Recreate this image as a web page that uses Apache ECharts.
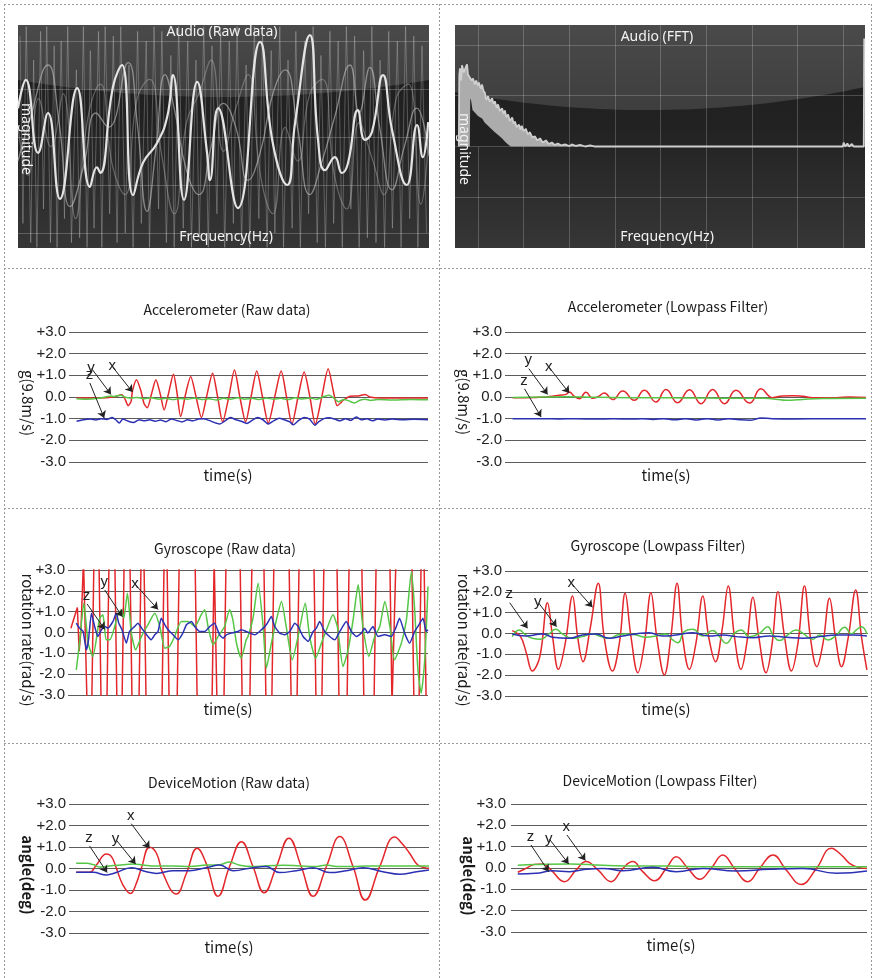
<!DOCTYPE html>
<html>
<head>
<meta charset="utf-8">
<script src="https://cdn.jsdelivr.net/npm/echarts@6/dist/echarts.min.js"></script>
<style>
  html, body { margin: 0; padding: 0; background: #fff; }
  #chart { width: 872px; height: 978px; }
</style>
</head>
<body>
<div id="chart"></div>
<script>
// ---- data: [t, value], t runs 0..100 across each plot ----

// audio raw (magnitude, grid lines at -2..2)
const audioMain = [[0,0.6],[1.9,1.19],[4.9,-0.33],[7.3,0.5],[10.2,-1.29],[14.4,1.02],[17.5,-1.04],[19.2,-0.63],[20,-0.75],[23.1,1.04],[25.3,1.5],[28,-1.21],[30.4,-0.54],[33.8,-0.13],[36.3,0.42],[37.7,1.29],[40.4,-1.31],[43.6,1.15],[46,-0.33],[46.7,-0.9],[48.7,0.6],[53.5,-1.48],[58.9,1.98],[62,-0.13],[65.5,-1.0],[67.4,0.29],[71,2.12],[73,-0.06],[74.7,-0.69],[77.1,-0.42],[78.8,-0.75],[80.3,-0.54],[82.7,0.56],[84.4,-0.06],[86.1,0.1],[88.8,1.29],[91,0.15],[94.6,-1.0],[97.1,0.25],[98.5,-0.42],[99.8,0.31]];
const audioTraceA = [[0,-0.5],[3,0.4],[7.3,1.5],[10,0.3],[12.7,-1.45],[16,-0.6],[19,0.5],[22,0.2],[26.8,1.55],[29,0.3],[31.4,-1.55],[33.5,-0.3],[35.8,1.3],[38,0.6],[41,-0.7],[44,-1.2],[47,-0.2],[50,0.7],[53,0.2],[56,-0.9],[59,-0.3],[62,0.9],[65,1.4],[68,0.2],[71,-1.2],[74,-0.5],[77,0.4],[80.8,1.5],[83,0.5],[85.6,1.45],[88,0.2],[91,-1.1],[94,-0.2],[97,0.6],[100,-0.4]];
const audioTraceB = [[0,0.2],[2.5,-0.8],[5,0.8],[8,-0.2],[11,0.9],[14,-1.7],[17,0.4],[20,1.1],[23,-0.6],[26,-1.2],[29,0.8],[32,1.2],[35,-0.4],[38,-1.6],[41,0.3],[44,0.9],[47,1.6],[50,-0.3],[53,0.6],[56,1.3],[59,-0.8],[62,-1.6],[65,0.2],[68,-0.5],[71,0.9],[74,1.2],[77,-0.8],[80,-1.5],[83,0.3],[86,-0.4],[89,-1.2],[92,0.8],[95,1.1],[98,-1.4],[100,0.1]];
const audioSpikes = [[0.5,2.1],[1.2,-1.8],[2.0,2.3],[3.1,-2.2],[3.8,1.6],[4.6,-2.3],[5.5,2.2],[6.2,-1.5],[7.0,2.3],[7.9,-2.2],[8.8,1.9],[9.5,-2.3],[10.5,2.0],[11.3,-1.7],[12.1,2.3],[13.0,-2.2],[14.2,1.4],[15.0,-2.1],[15.9,2.3],[16.8,-2.3],[17.6,1.8],[18.5,-1.9],[19.6,2.2],[20.4,-2.3],[21.2,2.3],[22.3,-1.6],[23.2,2.1],[24.1,-2.2],[25.0,2.3],[26.1,-2.0],[27.0,1.5],[28.0,-2.3],[29.1,2.2],[30.0,-1.8],[31.2,2.0],[32.0,-2.3],[33.1,2.3],[34.2,-1.5],[35.0,2.2],[36.1,-2.2],[37.2,1.7],[38.0,-2.3],[39.1,2.3],[40.2,-1.9],[41.3,2.0],[42.2,-2.3],[43.3,1.6],[44.1,-2.1],[45.2,2.3],[46.3,-2.3],[47.2,1.9],[48.4,-1.6],[49.3,2.2],[50.3,-2.3],[51.4,2.0],[52.4,-1.8],[53.3,2.3],[54.4,-2.2],[55.5,1.5],[56.4,-2.3],[57.5,2.3],[58.6,-1.7],[59.5,2.1],[60.6,-2.3],[61.6,1.8],[62.5,-2.0],[63.7,2.3],[64.6,-2.3],[65.7,1.6],[66.7,-1.9],[67.6,2.2],[68.7,-2.3],[69.8,2.0],[70.7,-1.6],[71.8,2.3],[72.8,-2.2],[73.7,1.7],[74.8,-2.3],[75.9,2.2],[76.8,-1.8],[77.9,2.0],[78.9,-2.3],[79.9,2.3],[81.0,-1.5],[81.9,2.1],[83.0,-2.3],[84.1,1.8],[85.0,-2.1],[86.1,2.3],[87.1,-2.2],[88.1,1.6],[89.2,-2.3],[90.2,2.2],[91.1,-1.9],[92.3,2.0],[93.2,-2.3],[94.3,2.3],[95.3,-1.7],[96.3,2.1],[97.3,-2.3],[98.3,1.9],[99.4,-2.0]];

// audio FFT (t in grid-column units, 0..8 between first and last vertical line)
const fftUpper = [[-0.42,0],[-0.41,1.4],[-0.395,1.54],[-0.37,1.3],[-0.35,1.6],[-0.31,1.46],[-0.26,1.58],[-0.24,1.62],[-0.22,1.42],[-0.18,1.44],[-0.14,1.3],[-0.11,1.34],[-0.07,1.22],[-0.04,1.3],[0.0,1.2],[0.02,1.26],[0.06,1.14],[0.09,1.22],[0.12,1.1],[0.15,1.06],[0.18,0.92],[0.22,0.99],[0.26,0.88],[0.31,0.95],[0.34,0.84],[0.37,0.89],[0.41,0.76],[0.44,0.83],[0.48,0.7],[0.53,0.75],[0.56,0.64],[0.59,0.71],[0.62,0.58],[0.66,0.63],[0.7,0.5],[0.75,0.57],[0.78,0.45],[0.81,0.49],[0.85,0.38],[0.9,0.43],[0.93,0.33],[0.96,0.41],[1.0,0.3],[1.05,0.35],[1.09,0.24],[1.14,0.28],[1.19,0.18],[1.25,0.2],[1.3,0.12],[1.36,0.16],[1.42,0.08],[1.49,0.12],[1.55,0.05],[1.62,0.08],[1.68,0.03],[1.75,0.06],[1.83,0.02],[1.91,0.04],[2.0,0.01],[2.06,0.04],[2.15,0.01],[2.24,0.03],[2.35,0.0],[2.46,0.02],[2.55,0],[4.88,0],[4.9,0.03],[4.92,0],[8.0,0],[8.02,0.08],[8.05,0],[8.1,0.06],[8.14,0],[8.2,0.05],[8.24,0],[8.46,0],[8.47,2.13]];
const fftGap = [[-0.18,0],[-0.17,0.95],[-0.15,0.9],[-0.12,0.72],[-0.07,0.67],[0.0,0.6],[0.09,0.55],[0.15,0.47],[0.22,0.41],[0.3,0.34],[0.37,0.28],[0.45,0.22],[0.53,0.16],[0.6,0.09],[0.66,0.04],[0.72,0]];

// accelerometer raw
const accRawX = [[2.1,-0.05],[8.6,-0.05],[12.3,0.0],[14.7,0.1],[15.6,-0.1],[16.5,-0.4],[17.3,-0.2],[17.7,0.3],[18.8,0.8],[20.0,0.3],[20.9,-0.3],[21.8,-0.5],[23.0,0.15],[24.2,0.8],[25.4,0.15],[26.5,-0.6],[27.7,0.15],[29.1,1.05],[30.0,0.3],[31.1,-0.9],[32.5,0.15],[33.9,0.95],[35.4,0.0],[36.9,-0.95],[38.3,0],[40.0,1.1],[41.4,0],[42.8,-1.15],[44.5,0],[46.1,1.25],[47.6,0],[49.2,-1.15],[50.7,0],[52.3,1.2],[53.9,0],[55.5,-1.2],[57.3,0],[59.1,1.2],[60.6,0],[62.1,-1.25],[63.8,0],[65.5,1.15],[67.1,0],[68.6,-1.25],[70.4,0],[72.2,1.3],[73.6,0.3],[74.7,-0.4],[75.5,-0.3],[76.4,-0.15],[78.3,0.03],[80.6,0.05],[82.5,0.12],[83.8,0],[86.6,-0.05],[100,-0.05]];
const accRawY = [[2.1,-0.08],[5,-0.1],[8,-0.06],[10,0.0],[11.5,0.05],[12.5,0.02],[13.5,0.06],[14.5,0.08],[15.5,0.0],[17,-0.05],[19,-0.02],[21,-0.08],[23,-0.04],[25,-0.1],[27,-0.06],[29,-0.12],[31,-0.07],[33,-0.1],[35,-0.05],[37,-0.12],[39,-0.08],[41,-0.14],[43,-0.06],[45,-0.1],[47,-0.04],[49,-0.1],[51,-0.06],[53,-0.12],[55,-0.05],[57,-0.1],[59,-0.06],[61,-0.12],[63,-0.04],[65,-0.09],[67,-0.05],[69,-0.1],[71,0.02],[72.5,0.08],[74,-0.08],[75,-0.22],[76.5,-0.12],[78,-0.18],[79.5,-0.28],[81,-0.15],[82.5,-0.1],[84,-0.16],[86,-0.12],[90,-0.14],[95,-0.11],[100,-0.13]];
const accRawZ = [[2.1,-1.12],[4,-1.05],[6,-1.02],[7.5,-1.06],[9,-1.0],[10.5,-1.04],[12,-0.95],[13,-1.05],[14,-1.2],[15,-1.02],[16.5,-1.12],[18,-1.18],[19.5,-1.05],[21,-1.1],[22.5,-1.05],[24,-1.12],[25.5,-1.06],[27,-1.14],[28.5,-1.02],[30,-1.08],[31.5,-1.15],[33,-1.05],[34.5,-1.1],[36,-1.02],[37.5,-1.0],[39,-1.08],[40.5,-1.18],[42,-1.25],[43.5,-1.1],[45,-0.95],[46.5,-1.05],[48,-1.12],[49.5,-1.22],[51,-1.08],[52.5,-0.95],[54,-1.05],[55.5,-1.25],[57,-1.1],[58.5,-0.98],[60,-1.05],[61.5,-1.15],[62.5,-1.28],[64,-1.08],[65.5,-0.95],[67,-1.02],[68.5,-1.3],[69.5,-1.15],[71,-1.0],[72.5,-0.96],[74,-1.02],[75.5,-1.1],[77,-1.0],[78.5,-1.08],[80,-0.92],[81.5,-1.05],[83,-1.0],[84.5,-1.1],[86,-1.02],[88,-1.06],[90,-1.02],[93,-1.05],[96,-1.03],[100,-1.05]];

// accelerometer lowpass
const accLpX = [[2.1,-0.03],[8.6,-0.02],[12.3,0.02],[15.1,0.08],[16.9,0.12],[17.8,0.23],[19.2,0.03],[20.6,-0.08],[22.4,0.22],[24.3,-0.06],[25.9,0.03],[27.5,0.18],[29.8,-0.12],[32.6,0.28],[35.8,-0.15],[38.6,0.31],[41.8,-0.23],[44.6,0.35],[47.8,-0.26],[51.1,0.34],[54.3,-0.31],[57.5,0.35],[60.8,-0.31],[64.0,0.31],[67.7,-0.28],[70.9,0.38],[73.2,0.03],[74.1,-0.03],[76.9,0.05],[79.7,0.06],[82.5,0.03],[85.2,-0.03],[91.7,-0.03],[95.4,0.0],[100,-0.02]];
const accLpY = [[2.1,-0.02],[10,0.0],[17,0.01],[25,-0.01],[35,-0.03],[45,-0.04],[55,-0.05],[65,-0.06],[72,-0.06],[75,-0.1],[78,-0.15],[81,-0.13],[84,-0.09],[90,-0.07],[100,-0.06]];
const accLpZ = [[2.1,-1.0],[10,-1.0],[15,-1.01],[20,-1.0],[25,-1.02],[30,-1.0],[35,-1.02],[38,-1.0],[41,-1.04],[44,-1.0],[47,-1.05],[50,-1.0],[53,-1.06],[56,-1.0],[59,-1.06],[62,-1.0],[65,-1.05],[68,-1.07],[71,-0.97],[74,-1.0],[80,-1.01],[90,-1.0],[100,-1.0]];

// gyroscope raw (x runs far beyond +-3 and is clipped)
const gyroRawX = [[0.8,0.2],[2.6,1.2],[3.1,-0.9],[3.6,0.1],[4.3,3.5],[4.7,3.5],[5.3,-3.5],[6.6,-3.5],[7.2,3.5],[8.6,3.5],[9.2,-3.5],[10.8,-3.5],[11.4,3.5],[13.0,3.5],[13.6,-3.5],[15.0,-3.5],[15.6,3.5],[17.2,3.5],[17.8,-3.5],[19.7,-3.5],[20.3,3.5],[21.1,3.5],[21.7,-3.5],[26.1,-3.5],[26.7,3.5],[27.5,3.5],[28.1,-3.5],[30.3,-3.5],[30.9,3.5],[35.3,3.5],[35.9,-3.5],[40.0,-3.5],[40.6,3.5],[40.8,3.5],[41.4,-3.5],[43.3,-3.5],[43.9,3.5],[47.8,3.5],[48.4,-3.5],[50.5,-3.5],[51.1,3.5],[54.4,3.5],[55.0,-3.5],[56.6,-3.5],[57.2,3.5],[61.4,3.5],[62.0,-3.5],[63.6,-3.5],[64.2,3.5],[68.3,3.5],[68.9,-3.5],[70.5,-3.5],[71.1,3.5],[74.7,3.5],[75.3,-3.5],[77.5,-3.5],[78.1,3.5],[81.6,3.5],[82.2,-3.5],[85.0,-3.5],[85.6,3.5],[89.4,3.5],[90.0,-3.5],[90.5,-3.5],[91.1,3.5],[95.5,3.5],[96.1,-3.5],[97.5,-3.5],[98.1,3.5],[98.9,3.5],[99.5,-3.5]];
const gyroRawY = [[2.3,-1.79],[3.2,-0.51],[4.4,1.41],[5.6,-0.51],[6.9,-1.15],[8.8,0.69],[9.7,0.85],[10.6,-0.35],[11.6,-0.35],[13.9,0.85],[14.8,1.09],[15.5,0.69],[16.5,1.89],[17.6,-0.03],[18.8,-0.83],[20.4,-0.19],[22.2,0.37],[24.1,0.93],[25.5,0.29],[26.9,-0.75],[28.2,-0.67],[29.6,-0.19],[31.5,0.53],[33.3,0.53],[35.2,0.29],[37.0,0.85],[38.0,1.09],[38.9,0.29],[40.3,-0.59],[41.7,-0.19],[43.5,0.29],[44.9,1.09],[45.8,0.61],[46.8,-0.51],[48.1,-1.23],[49.5,-0.35],[50.0,-0.19],[51.4,0.69],[52.8,2.37],[54.2,0.29],[55.1,-1.71],[56.5,-0.51],[57.9,0.61],[59.3,1.49],[60.6,0.29],[62.3,-1.31],[63.9,-0.19],[65.9,1.41],[67.1,-0.19],[68.8,-1.23],[70.4,-0.51],[71.8,0.13],[73.6,0.85],[74.8,0.29],[76.4,-1.63],[77.8,-0.83],[79.2,0.61],[80.6,2.29],[81.9,0.29],[83.6,-1.15],[85.2,-0.19],[86.6,0.29],[88.0,1.49],[89.4,0.29],[90.7,-1.31],[92.6,-0.51],[94.0,0.61],[95.4,2.93],[96.3,1.09],[97.2,-1.79],[98.1,-2.91],[99.1,-1.31],[100,2.21]];
const gyroRawZ = [[2.3,0.45],[3.2,0.21],[4.2,0.05],[5.1,-0.83],[5.7,-0.35],[6.5,0.93],[7.4,0.29],[8.3,-0.19],[9.3,0.13],[10.2,0.29],[11.1,0.21],[12.5,0.53],[13.4,0.93],[14.1,0.45],[15.0,0.13],[16.2,-0.51],[17.1,0.05],[18.5,0.29],[19.4,0.45],[20.8,0.13],[22.2,-0.19],[23.1,-0.35],[24.1,-0.11],[25.0,0.05],[25.9,0.69],[26.9,0.37],[27.8,0.13],[29.2,-0.11],[30.6,-0.35],[31.9,-0.03],[32.9,0.37],[34.3,0.53],[35.2,0.29],[36.6,0.05],[38.0,0.05],[39.4,0.29],[40.7,0.45],[42.1,-0.11],[43.1,-0.27],[44.0,-0.11],[45.4,-0.03],[47.2,0.05],[48.1,0.13],[49.5,0.05],[51.9,-0.11],[53.2,0.05],[55.1,0.37],[56.5,0.77],[57.4,0.29],[58.8,-0.03],[60.2,-0.11],[61.6,0.05],[63.0,0.45],[63.9,0.29],[65.3,-0.19],[66.7,-0.43],[68.1,0.05],[69.0,0.21],[69.9,0.53],[71.3,0.05],[72.7,-0.19],[74.1,-0.35],[75.5,0.05],[77.3,0.53],[78.7,0.05],[80.1,-0.19],[81.5,-0.03],[82.4,0.21],[83.3,-0.03],[84.7,0.29],[86.1,-0.19],[88.0,-0.11],[89.8,-0.19],[91.2,0.29],[92.1,0.69],[93.5,-0.03],[94.9,-0.51],[96.3,0.05],[97.2,0.29],[98.6,0.69],[99.5,0.05],[100,0.13]];

// gyroscope lowpass
const gyroLpX = [[2.0,0.14],[4.3,-0.15],[5.9,-0.95],[7.5,-1.8],[9.6,-1.11],[11.7,1.48],[13.1,-0.15],[14.7,-1.72],[16.6,-0.47],[18.6,1.8],[20.0,-0.15],[21.5,-1.35],[23.4,0.17],[25.7,2.41],[27.3,-0.15],[29.6,-1.8],[31.5,-0.47],[33.1,1.93],[34.7,-0.15],[36.6,-1.88],[38.4,-0.47],[40.2,1.96],[41.8,-0.15],[43.9,-1.99],[45.7,-0.15],[47.4,2.41],[48.9,-0.15],[50.8,-1.72],[52.6,-0.47],[54.5,1.8],[56.1,-0.15],[58.0,-1.35],[59.8,0.17],[61.5,2.28],[63.2,-0.15],[65.0,-1.72],[66.6,-0.47],[68.3,1.74],[69.9,-0.15],[71.9,-1.88],[73.6,-0.47],[75.2,2.01],[77.0,-0.15],[78.9,-1.8],[80.7,-0.47],[82.5,2.28],[84.1,-0.15],[85.9,-1.59],[87.6,-0.47],[89.4,1.69],[91.0,-0.15],[92.7,-1.59],[94.6,-0.15],[96.6,2.09],[98.2,-0.15],[99.7,-1.75]];
const gyroLpY = [[2.0,-0.15],[3.9,0.17],[5.7,-0.07],[7.5,-0.23],[9.8,-0.28],[12.1,-0.02],[14.0,0.2],[15.8,-0.02],[18.6,-0.23],[21.3,-0.15],[24.1,-0.02],[26.4,-0.15],[28.7,-0.23],[31.0,-0.07],[33.3,-0.02],[36.1,-0.07],[38.8,-0.18],[41.6,-0.12],[44.3,-0.02],[46.2,-0.31],[47.6,-0.44],[49.4,0.09],[51.7,0.2],[54.5,-0.12],[57.2,0.14],[59.1,-0.15],[60.9,-0.47],[63.2,0.01],[65.0,0.17],[67.3,-0.15],[70.1,0.01],[72.4,0.33],[73.8,-0.07],[75.6,-0.34],[77.9,-0.07],[80.2,0.17],[82.1,0.01],[84.8,-0.28],[86.7,-0.07],[89.0,-0.31],[91.3,-0.07],[93.6,0.3],[95.4,-0.02],[96.8,0.17],[98.2,0.33],[99.7,-0.02]];
const gyroLpZ = [[2.0,-0.02],[5.7,-0.12],[10.3,-0.02],[13.1,-0.18],[17.7,-0.23],[21.3,-0.07],[25.0,-0.02],[28.7,-0.23],[32.4,-0.12],[36.1,-0.02],[39.7,0.04],[43.4,-0.12],[47.1,-0.07],[51.7,0.04],[56.3,-0.12],[60.0,-0.07],[63.7,-0.15],[68.3,-0.2],[72.9,-0.12],[77.5,-0.18],[82.1,-0.23],[86.7,-0.15],[91.3,-0.07],[95.9,-0.07],[99.7,-0.12]];

// device motion raw
const dmRawX = [[2.0,-0.18],[5.7,-0.18],[7.6,0.16],[10.4,0.68],[11.8,0.55],[13.1,0.04],[15.0,-0.77],[17.1,-1.16],[18.7,-0.69],[20.1,0.01],[22.4,0.99],[24.3,0.71],[26.1,-0.23],[29.8,-1.19],[32.6,-0.23],[35.6,0.94],[38.1,0.24],[41.4,-1.29],[44.6,0.09],[47.9,1.25],[51.1,0.09],[54.2,-1.13],[57.6,0.09],[61.1,1.41],[64.5,0.09],[67.8,-1.29],[71.5,0.09],[75.2,1.49],[78.9,0.09],[82.3,-1.47],[86.3,0.09],[90.5,1.46],[92.8,1.1],[94.6,0.71],[96.9,0.16],[98.8,0.04],[100,0.01]];
const dmRawY = [[2.0,0.24],[4.8,0.24],[7.1,0.16],[8.5,0.07],[11.3,0.12],[15.0,0.18],[17.8,0.21],[20.6,0.16],[24.3,0.12],[28.9,0.12],[33.5,0.09],[38.1,0.16],[41.9,0.18],[44.6,0.3],[47.4,0.15],[51.1,0.09],[54.8,0.13],[59.4,0.15],[64.1,0.12],[68.7,0.09],[71.5,0.16],[74.3,0.09],[78.9,0.09],[82.6,0.12],[87.2,0.12],[91.9,0.12],[96.5,0.12],[100,0.12]];
const dmRawZ = [[2.0,-0.18],[6.7,-0.18],[10.4,-0.3],[13.1,-0.19],[17.3,0.04],[21.5,-0.15],[24.3,-0.23],[28.9,-0.1],[33.5,-0.1],[38.1,0.04],[41.9,0.16],[45.6,-0.1],[51.1,0.04],[54.8,0.09],[58.5,-0.19],[63.1,-0.1],[67.8,0.04],[72.4,-0.19],[77.0,-0.1],[81.7,0.04],[87.2,-0.15],[91.9,-0.27],[96.5,-0.15],[100,-0.07]];

// device motion lowpass
const dmLpX = [[1.9,-0.2],[4.2,-0.02],[6.6,0.17],[8.9,0.19],[11.2,-0.09],[15.0,-0.64],[18.3,-0.09],[21.1,0.3],[24.4,-0.09],[28.1,-0.64],[31.4,-0.02],[34.2,0.3],[37.0,-0.17],[40.3,-0.6],[43.6,-0.02],[46.4,0.53],[49.7,-0.02],[53.0,-0.53],[56.2,-0.02],[59.5,0.61],[62.8,-0.02],[66.5,-0.64],[69.8,-0.02],[73.6,0.61],[77.3,-0.09],[81.5,-0.77],[85.8,-0.02],[90.0,0.93],[92.8,0.61],[95.1,0.22],[97.5,0.03],[100,-0.02]];
const dmLpY = [[1.9,0.13],[7.0,0.16],[16.4,0.19],[25.8,0.13],[35.1,0.09],[44.5,0.09],[53.9,0.06],[63.3,0.06],[72.6,0.06],[82.0,0.05],[91.4,0.06],[100,0.06]];
const dmLpZ = [[1.9,-0.28],[7.0,-0.25],[11.7,-0.13],[16.4,-0.17],[21.1,-0.06],[25.8,-0.02],[31.4,-0.13],[39.8,0.03],[46.4,-0.17],[53.9,-0.02],[63.3,-0.14],[72.6,-0.06],[82.0,-0.02],[91.4,-0.25],[100,-0.14]];

// arrow annotations: [label, from, to]
const accRawArrows = [['y',[6.3,1.31],[11.7,0.12]],['x',[12.2,1.38],[17.7,0.23]],['z',[5.8,0.65],[9.8,-0.97]]];
const accLpArrows = [['y',[6.6,1.31],[11.8,0.12]],['x',[12.3,1.35],[17.8,0.18]],['z',[5.4,0.38],[10.0,-0.92]]];
const gyroRawArrows = [['z',[5.3,1.37],[10.2,0.15]],['y',[10.2,2.04],[15.1,0.76]],['x',[18.8,2.28],[25.0,1.11]]];
const gyroLpArrows = [['z',[1.3,1.48],[6.2,0.25]],['y',[9.2,1.48],[14.2,0.33]],['x',[18.4,2.38],[24.1,1.26]]];
const dmRawArrows = [['z',[5.7,1.05],[10.6,-0.19]],['y',[13.1,1.33],[18.5,0.21]],['x',[17.3,2.08],[22.4,0.94]]];
const dmLpArrows = [['z',[5.6,1.08],[10.6,-0.17]],['y',[10.8,1.35],[16.2,0.19]],['x',[15.7,1.55],[20.9,0.35]]];

const yTickLabels = ['-3.0', '-2.0', '-1.0', '0.0', '+1.0', '+2.0', '+3.0'];
const panelTitles = ['Accelerometer (Raw data)', 'Accelerometer (Lowpass Filter)', 'Gyroscope (Raw data)',
  'Gyroscope (Lowpass Filter)', 'DeviceMotion (Raw data)', 'DeviceMotion (Lowpass Filter)'];
const yNames = ['g(9.8m/s)', 'g(9.8m/s)', 'rotation rate(rad/s)', 'rotation rate(rad/s)', 'angle(deg)', 'angle(deg)'];

// ---- layout ----
const RED = '#e3272b', GREEN = '#55c646', BLUE = '#2b30b4';
const TXT = '"Noto Sans CJK KR", "Noto Sans", sans-serif';

const panels = [
  { data: [accRawX, accRawY, accRawZ], arrows: accRawArrows, smooth: [0.25, 0.2, 0.2],
    grid: { left: 69, top: 332, width: 359, height: 130 }, margin: 3,
    title: [227, 310], time: [228, 475], yname: [28, 403], bold: false },
  { data: [accLpX, accLpY, accLpZ], arrows: accLpArrows, smooth: [0.5, 0.5, 0.5],
    grid: { left: 505, top: 332, width: 361, height: 130 }, margin: 3,
    title: [668, 307], time: [666, 475], yname: [464, 402], bold: false },
  { data: [gyroRawX, gyroRawY, gyroRawZ], arrows: gyroRawArrows, smooth: [0, 0.2, 0.15],
    grid: { left: 68, top: 570, width: 360, height: 125 }, margin: 3,
    title: [225, 549], time: [228, 709], yname: [28, 640], bold: false },
  { data: [gyroLpX, gyroLpY, gyroLpZ], arrows: gyroLpArrows, smooth: [0.4, 0.5, 0.5],
    grid: { left: 505, top: 571, width: 363, height: 125 }, margin: 3,
    title: [658, 546], time: [666, 709], yname: [464, 640], bold: false },
  { data: [dmRawX, dmRawY, dmRawZ], arrows: dmRawArrows, smooth: [0.45, 0.4, 0.4],
    grid: { left: 69, top: 804, width: 360, height: 129 }, margin: 3,
    title: [229, 783], time: [229, 947], yname: [28, 875], bold: true },
  { data: [dmLpX, dmLpY, dmLpZ], arrows: dmLpArrows, smooth: [0.45, 0.5, 0.5],
    grid: { left: 511, top: 804, width: 356, height: 128 }, margin: 5,
    title: [660, 781], time: [671, 945], yname: [469, 876], bold: true }
];

const grids = [], xAxes = [], yAxes = [], series = [], graphics = [];

function line(idx, data, color, width, smooth, clip, extra) {
  return Object.assign({
    type: 'line', xAxisIndex: idx, yAxisIndex: idx, data: data,
    showSymbol: false, symbol: 'none', smooth: smooth, clip: clip, silent: true,
    lineStyle: { color: color, width: width }
  }, extra || {});
}

function text(str, x, y, font, fill, rotation, glow) {
  const style = { text: str, x: 0, y: 0, font: font, fill: fill,
    textAlign: 'center', textVerticalAlign: 'middle', align: 'center', verticalAlign: 'middle' };
  if (glow) { style.shadowBlur = 4; style.shadowColor = 'rgba(0,0,0,0.9)'; }
  return { type: 'text', x: x, y: y, rotation: rotation || 0, z: 100, silent: true, style: style };
}

function capPoints(x0, y0, w, dl, dm, dr) {
  const pts = [[x0, y0]];
  for (let i = 0; i <= 40; i++) {
    const u = i / 40;
    const d = dl * (1 - u) * (1 - 2 * u) + dm * 4 * u * (1 - u) + dr * u * (2 * u - 1);
    pts.push([x0 + u * w, y0 + d]);
  }
  pts.push([x0 + w, y0]);
  return pts;
}

// dark audio panels
const darkPanels = [
  { x: 18, y: 25, w: 411, h: 223, cap: [55, 72, 55] },
  { x: 455, y: 25, w: 410, h: 223, cap: [67, 85, 62] }
];
darkPanels.forEach(function (p) {
  graphics.push({ type: 'rect', z: -10, silent: true, shape: { x: p.x, y: p.y, width: p.w, height: p.h },
    style: { fill: new echarts.graphic.LinearGradient(0, 0, 0, 1, [
      { offset: 0, color: '#1d1d1d' }, { offset: 0.45, color: '#222222' }, { offset: 1, color: '#363636' }]) } });
  graphics.push({ type: 'polygon', z: -9, silent: true,
    shape: { points: capPoints(p.x, p.y, p.w, p.cap[0], p.cap[1], p.cap[2]) },
    style: { fill: new echarts.graphic.LinearGradient(0, 0, 0, 1, [
      { offset: 0, color: '#4a4a4a' }, { offset: 1, color: '#3e3e3e' }]) } });
});

// grid 0: audio raw
grids.push({ left: 18, top: 25, width: 411, height: 208 });
xAxes.push({ gridIndex: 0, type: 'value', min: 0, max: 100, show: false });
yAxes.push({ gridIndex: 0, type: 'value', min: -2, max: 2.333, interval: 1,
  axisLine: { show: false }, axisTick: { show: false }, axisLabel: { show: false },
  splitLine: { show: true, showMaxLine: false, lineStyle: { color: 'rgba(255,255,255,0.22)', width: 1 } } });
series.push(line(0, audioSpikes, 'rgba(200,200,200,0.33)', 1, false, false));
series.push(line(0, audioTraceB, 'rgba(175,175,175,0.45)', 1.2, 0.5, false));
series.push(line(0, audioTraceA, 'rgba(195,195,195,0.6)', 1.3, 0.5, false));
series.push(line(0, audioMain, '#e4e4e4', 2.2, 0.5, false));

// grid 1: audio fft data + horizontal lines
grids.push({ left: 455, top: 25, width: 410, height: 223 });
xAxes.push({ gridIndex: 1, type: 'value', min: -0.504, max: 8.487, show: false });
yAxes.push({ gridIndex: 1, type: 'value', min: -2, max: 2.394, interval: 1,
  axisLine: { show: false }, axisTick: { show: false }, axisLabel: { show: false },
  splitLine: { show: true, showMaxLine: false, showMinLine: false, lineStyle: { color: 'rgba(255,255,255,0.2)', width: 1 } } });
series.push(line(1, fftUpper, '#cfcfcf', 1.8, false, true, { areaStyle: { color: '#acacac', opacity: 1 }, z: 3 }));
series.push(line(1, fftGap, '#212121', 0, false, true, { areaStyle: { color: '#212121', opacity: 1 }, z: 4 }));

// grid 2: audio fft vertical lines
grids.push({ left: 478, top: 25, width: 365, height: 223 });
xAxes.push({ gridIndex: 2, type: 'value', min: 0, max: 8, interval: 1,
  axisLine: { show: false }, axisTick: { show: false }, axisLabel: { show: false },
  splitLine: { show: true, lineStyle: { color: 'rgba(255,255,255,0.2)', width: 1 } } });
yAxes.push({ gridIndex: 2, type: 'value', min: 0, max: 1, show: false });

// audio labels
const AUDIO_FONT = '14px "Noto Sans"';
graphics.push(text('Audio (Raw data)', 222, 32, AUDIO_FONT, '#f2f2f2', 0, true));
graphics.push(text('Frequency(Hz)', 226, 237, AUDIO_FONT, '#f2f2f2', 0, true));
graphics.push(text('magnitude', 26, 139, AUDIO_FONT, '#f2f2f2', -Math.PI / 2, true));
graphics.push(text('Audio (FFT)', 657, 37, AUDIO_FONT, '#f2f2f2', 0, true));
graphics.push(text('Frequency(Hz)', 667, 237, AUDIO_FONT, '#f2f2f2', 0, true));
graphics.push(text('magnitude', 464, 149, AUDIO_FONT, '#f2f2f2', -Math.PI / 2, true));

// sensor panels
panels.forEach(function (p, k) {
  const idx = 3 + k;
  grids.push(p.grid);
  xAxes.push({ gridIndex: idx, type: 'value', min: 0, max: 100, show: false });
  yAxes.push({ gridIndex: idx, type: 'value', min: -3, max: 3, interval: 1,
    axisLine: { show: false }, axisTick: { show: false },
    axisLabel: { margin: p.margin, color: '#222', fontSize: 15, fontFamily: '"Liberation Sans", Arial, sans-serif',
      formatter: function (v) { return yTickLabels[Math.round(v) + 3]; } },
    splitLine: { show: true, lineStyle: { color: '#5c5c5c', width: 1 } } });
  const colors = [RED, GREEN, BLUE];
  p.data.forEach(function (d, j) {
    const extra = {};
    if (j === 0) {
      extra.markLine = {
        silent: true, animation: false, symbol: ['none', 'arrow'], symbolSize: 7,
        lineStyle: { color: '#222', width: 1, type: 'solid' },
        label: { show: true, position: 'start', formatter: '{b}', color: '#222', fontSize: 15,
          fontFamily: '"Liberation Sans", Arial, sans-serif', distance: 1 },
        emphasis: { disabled: true },
        data: p.arrows.map(function (a) { return [{ name: a[0], coord: a[1] }, { coord: a[2] }]; })
      };
    }
    series.push(line(idx, d, colors[j], 1.5, p.smooth[j], true, extra));
  });
  graphics.push(text(panelTitles[k], p.title[0], p.title[1], '14px ' + TXT, '#1a1a1a'));
  graphics.push(text('time(s)', p.time[0], p.time[1], '15px ' + TXT, '#1a1a1a'));
  graphics.push(text(yNames[k], p.yname[0], p.yname[1], (p.bold ? 'bold ' : '') + '15px ' + TXT, '#1a1a1a', -Math.PI / 2));
});

// dashed cell borders
const dash = { stroke: '#9a9a9a', lineWidth: 1, lineDash: [2, 2] };
[4.5, 439.5, 871.5].forEach(function (x) {
  graphics.push({ type: 'line', silent: true, z: 100, shape: { x1: x, y1: 4, x2: x, y2: 978 }, style: dash });
});
[4.5, 268.5, 508.5, 743.5].forEach(function (y) {
  graphics.push({ type: 'line', silent: true, z: 100, shape: { x1: 4, y1: y, x2: 872, y2: y }, style: dash });
});

const chart = echarts.init(document.getElementById('chart'), null, { renderer: 'canvas' });
chart.setOption({
  animation: false,
  backgroundColor: '#ffffff',
  grid: grids,
  xAxis: xAxes,
  yAxis: yAxes,
  series: series,
  graphic: { elements: graphics }
});
</script>
</body>
</html>
